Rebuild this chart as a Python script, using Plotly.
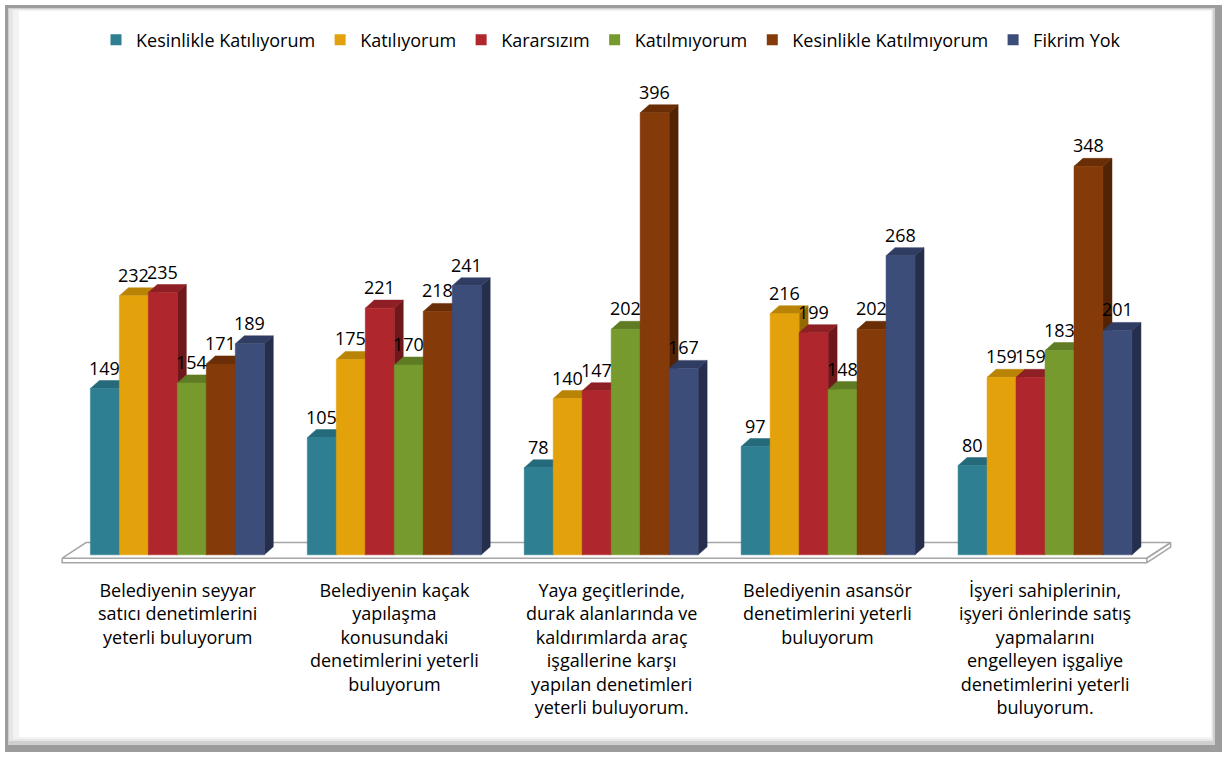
import plotly.graph_objects as go

# ---------------- data ----------------
categories = [
    "Belediyenin seyyar<br>satıcı denetimlerini<br>yeterli buluyorum",
    "Belediyenin kaçak<br>yapılaşma<br>konusundaki<br>denetimlerini yeterli<br>buluyorum",
    "Yaya geçitlerinde,<br>durak alanlarında ve<br>kaldırımlarda araç<br>işgallerine karşı<br>yapılan denetimleri<br>yeterli buluyorum.",
    "Belediyenin asansör<br>denetimlerini yeterli<br>buluyorum",
    "İşyeri sahiplerinin,<br>işyeri önlerinde satış<br>yapmalarını<br>engelleyen işgaliye<br>denetimlerini yeterli<br>buluyorum.",
]
series_names = ["Kesinlikle Katılıyorum", "Katılıyorum", "Kararsızım",
                "Katılmıyorum", "Kesinlikle Katılmıyorum", "Fikrim Yok"]
kesinlikle_katiliyorum = [149, 105, 78, 97, 80]
katiliyorum = [232, 175, 140, 216, 159]
kararsizim = [235, 221, 147, 199, 159]
katilmiyorum = [154, 170, 202, 148, 183]
kesinlikle_katilmiyorum = [171, 218, 396, 202, 348]
fikrim_yok = [189, 241, 167, 268, 201]
series_values = [kesinlikle_katiliyorum, katiliyorum, kararsizim,
                 katilmiyorum, kesinlikle_katilmiyorum, fikrim_yok]

front_colors = ["#2E7F92", "#E3A20B", "#AF272C", "#779A2F", "#853A09", "#3D4D7A"]
top_colors = ["#256A7A", "#B98406", "#8E1F24", "#5F7C25", "#6A2E07", "#303D62"]
side_colors = ["#1E5563", "#946904", "#6E181C", "#4A611C", "#522305", "#252F4C"]

# ---------------- geometry (styles) ----------------
W, H = 1227, 757
ML, MR, MT, MB = 47, 52, 86, 191
XR = [-0.6, 4.6]
YR = [-10, 420]
FONT = "'Open Sans', sans-serif"
FS = 18

bar_w = 0.1336
group_start = -0.40
dx = 0.0415   # depth in x units
dy = 7.2      # depth in y units

px_w = W - ML - MR
px_h = H - MT - MB


def px2x(px):
    return (px - ML) / px_w


def py2y(py):
    return (H - MB - py) / px_h


fig = go.Figure()

# floor
floor_x = [-0.53, 4.47, 4.58, -0.42, -0.53]
floor_y = [-3, -3, 11, 11, -3]
fig.add_trace(go.Scatter(x=floor_x, y=floor_y, fill="toself", mode="lines",
                         fillcolor="white", line=dict(color="#A6A6A6", width=1.5),
                         hoverinfo="skip", showlegend=False))
fig.add_trace(go.Scatter(x=[-0.53, -0.53, 4.47, 4.58, 4.58, 4.47, 4.47],
                         y=[-3, -7, -7, 7, 11, -3, -7], mode="lines",
                         line=dict(color="#A6A6A6", width=1.5),
                         hoverinfo="skip", showlegend=False))

annotations = []
for j, (name, vals) in enumerate(zip(series_names, series_values)):
    sx, sy, tx, ty, fx, fy = [], [], [], [], [], []
    for i, v in enumerate(vals):
        x0 = i + group_start + j * bar_w
        x1 = x0 + bar_w
        sx += [x1, x1, x1 + dx, x1 + dx, x1, None]
        sy += [0, v, v + dy, dy, 0, None]
        tx += [x0, x1, x1 + dx, x0 + dx, x0, None]
        ty += [v, v, v + dy, v + dy, v, None]
        fx += [x0, x1, x1, x0, x0, None]
        fy += [0, 0, v, v, 0, None]
        annotations.append(dict(x=(x0 + x1) / 2, y=v, xref="x", yref="y",
                                text=str(v), showarrow=False, yanchor="bottom",
                                yshift=7, font=dict(family=FONT, size=FS, color="black")))
    for xs, ys, col in ((sx, sy, side_colors[j]), (tx, ty, top_colors[j]),
                        (fx, fy, front_colors[j])):
        fig.add_trace(go.Scatter(x=xs, y=ys, fill="toself", mode="lines",
                                 fillcolor=col, line=dict(color=col, width=0.5),
                                 hoverinfo="skip", showlegend=False))

# legend entries
for name, col in zip(series_names, front_colors):
    fig.add_trace(go.Scatter(x=[None], y=[None], mode="markers", name=name,
                             marker=dict(symbol="square", size=11, color=col)))

# category labels
for i, cat in enumerate(categories):
    annotations.append(dict(x=i, y=py2y(576), xref="x", yref="paper", text=cat,
                            showarrow=False, yanchor="top", align="center",
                            font=dict(family=FONT, size=FS, color="black")))

# frame decoration
shapes = [
    dict(type="rect", xref="paper", yref="paper", layer="below",
         x0=px2x(5), x1=px2x(1222), y0=py2y(752), y1=py2y(5),
         fillcolor="#9C9C9C", line=dict(width=0)),
    dict(type="rect", xref="paper", yref="paper", layer="below",
         x0=px2x(8), x1=px2x(1215), y0=py2y(745), y1=py2y(8),
         fillcolor="#CFCFCF", line=dict(width=0)),
    dict(type="rect", xref="paper", yref="paper", layer="below",
         x0=px2x(9), x1=px2x(1213), y0=py2y(741), y1=py2y(9),
         fillcolor="#E6E6E6", line=dict(width=0)),
    dict(type="rect", xref="paper", yref="paper", layer="below",
         x0=px2x(13), x1=px2x(1212), y0=py2y(739), y1=py2y(10),
         fillcolor="#F3F3F3", line=dict(width=0)),
    dict(type="rect", xref="paper", yref="paper", layer="below",
         x0=px2x(19), x1=px2x(1211), y0=py2y(737), y1=py2y(11),
         fillcolor="white", line=dict(width=0)),
]

fig.update_layout(
    width=W, height=H,
    margin=dict(l=ML, r=MR, t=MT, b=MB, autoexpand=False),
    paper_bgcolor="white", plot_bgcolor="rgba(0,0,0,0)",
    xaxis=dict(range=XR, visible=False, fixedrange=True),
    yaxis=dict(range=YR, visible=False, fixedrange=True),
    showlegend=True,
    legend=dict(orientation="h", x=0.5, xanchor="center", y=py2y(40), yanchor="middle",
                font=dict(family=FONT, size=FS, color="black"),
                bgcolor="rgba(0,0,0,0)", itemwidth=30, tracegroupgap=0),
    annotations=annotations,
    shapes=shapes,
    font=dict(family=FONT),
)

fig.write_html("out.html", config={"displayModeBar": False},
               post_script="document.body.style.margin='0';document.body.style.overflow='hidden';")
